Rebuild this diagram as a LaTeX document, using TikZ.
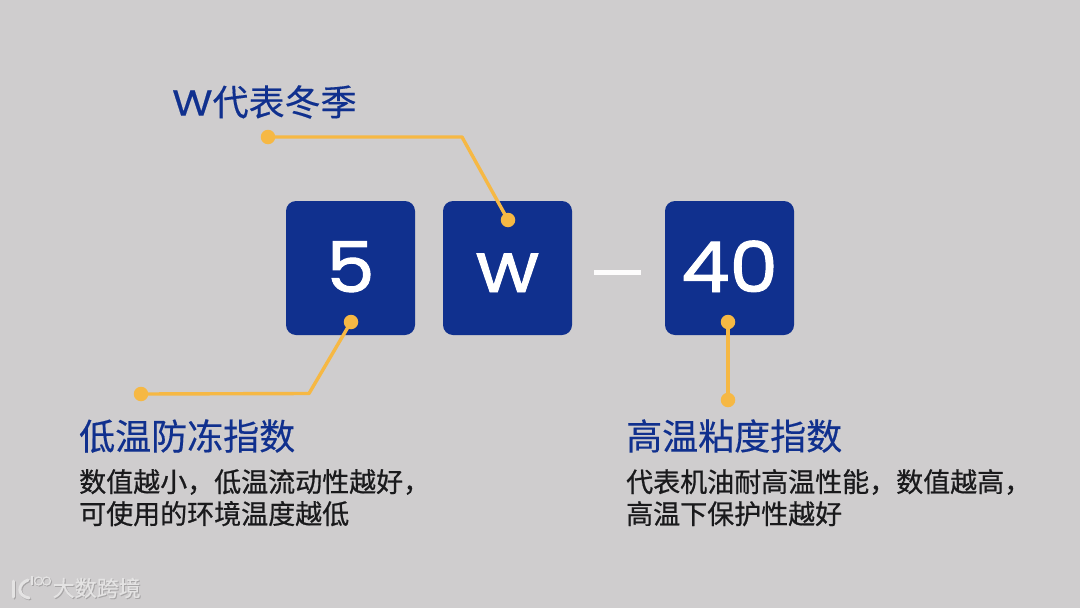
\documentclass[tikz,border=0pt]{standalone}
\usepackage{fontspec}
\setmainfont[RawFeature={embolden=0.35}]{Noto Sans CJK SC}
\newfontfamily\bodyfont[RawFeature={embolden=0.7}]{Noto Sans CJK SC}
\newfontfamily\digitfont[FakeStretch=1.1,RawFeature={embolden=1.4}]{Poppins}
\newfontfamily\latinfont[FakeStretch=1.15,RawFeature={embolden=0.4}]{Poppins}
\definecolor{bgc}{HTML}{CFCDCE}
\definecolor{navy}{HTML}{10308E}
\definecolor{amber}{HTML}{F6B844}
\definecolor{ink}{HTML}{1A1A1C}
\definecolor{wmcol}{HTML}{E4E3E3}
\definecolor{wmshadow}{HTML}{A8A6A7}
\tikzset{
  x=1pt,y=-1pt,
  tile/.style={fill=navy,rounded corners=10pt,minimum width=129pt,minimum height=134pt,inner sep=0pt,text=white,text height=48pt,text depth=0pt,font=\digitfont\fontsize{70}{70}\selectfont},
  lead/.style={draw=amber,line width=3.4pt,line join=round},
  dot/.style={circle,fill=amber,minimum size=14.5pt,inner sep=0pt},
  heading/.style={text=navy,anchor=west,inner sep=0pt,font=\fontsize{36}{40}\selectfont},
  body/.style={text=ink,anchor=north west,inner sep=0pt,align=left,font=\bodyfont\fontsize{27}{32}\selectfont},
  wmtext/.style={anchor=west,inner sep=0pt,font=\fontsize{22}{22}\selectfont},
}
\begin{document}
\begin{tikzpicture}
\useasboundingbox (0,0) rectangle (1080,608);
\fill[bgc] (0,0) rectangle (1080,608);
\node[tile] (five) at (350.5,268) {5};
\node[tile] (winter) at (507.5,268) {w};
\node[tile] (forty) at (729.5,268) {40};
\fill[white!95!bgc] (594,269.5) rectangle (641,274.5);
\node[dot] (wa) at (268,137) {};
\node[dot] (wb) at (508,220) {};
\node[dot] (fa) at (351,322) {};
\node[dot] (fb) at (141,394) {};
\node[dot] (ha) at (728,322) {};
\node[dot] (hb) at (728,400) {};
\coordinate (wk) at (462,137);
\coordinate (fk) at (309,393.5);
\draw[lead] (wa.center) -- (wk) -- (wb.center);
\draw[lead] (fa.center) -- (fk) -- (fb.center);
\draw[lead] (ha.center) -- (hb.center);
\node[heading] (t1) at (172,102) {{\latinfont W}代表冬季};
\node[heading] (t2) at (79,436) {低温防冻指数};
\node[heading] (t3) at (626,436) {高温粘度指数};
\node[body] (b1) at (79,469) {数值越小，低温流动性越好，\\可使用的环境温度越低};
\node[body] (b2) at (626,469) {代表机油耐高温性能，数值越高，\\高温下保护性越好};
% watermark
\node[wmtext,text=wmshadow] (wms) at (53.5,589) {大数跨境};
\node[wmtext,text=wmcol] (wm) at (52.5,588) {大数跨境};
\foreach \dx/\col in {1/wmshadow,0/wmcol}{
\begin{scope}[xshift=\dx pt,yshift=-\dx pt]
\draw[\col,line width=3pt,line cap=round] (13,581) -- (13,597);
\draw[\col,line width=3pt,line cap=round] (28,580) .. controls (17,584) and (17,596) .. (29,598);
\draw[\col,line width=1.2pt] (32,576) -- (32,585);
\draw[\col,line width=1.2pt] (38.5,581) circle (4);
\draw[\col,line width=1.2pt] (46.5,581) circle (4);
\end{scope}}
\end{tikzpicture}
\end{document}
